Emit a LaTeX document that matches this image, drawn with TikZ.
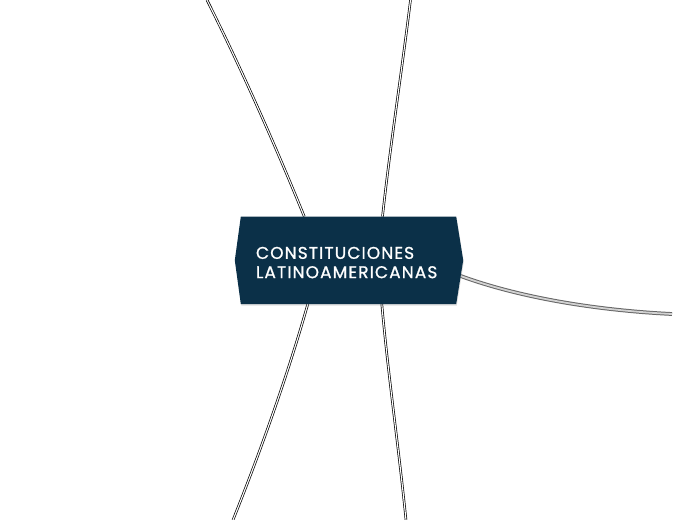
\documentclass[tikz,border=0pt]{standalone}
\usepackage{fontspec}
\setmainfont{Poppins}
\newfontfamily\rootfont[LetterSpace=6.5,FakeBold=1]{Poppins}
\usetikzlibrary{backgrounds,shadows,calc}
\definecolor{rootblue}{HTML}{0B3048}
\tikzset{
  rootbox/.style={minimum width=215pt, minimum height=87pt, inner xsep=15pt, inner ysep=0pt,
    text width=185pt, text height=16.5pt, align=left, text=white,
    font=\rootfont\fontsize{17}{19.3}\selectfont},
  branch/.style={draw=black, double=white, line width=0.7pt, double distance=1.1pt},
  greybranch/.style={draw=gray!80!black, double=gray!35, line width=1pt, double distance=1.8pt}
}
\begin{document}
\begin{tikzpicture}[x=1pt,y=-1pt]
\useasboundingbox (0,0) rectangle (697,520);

% Root
\node[rootbox] (root) at (348.5,260.3) {CONSTITUCIONES\\LATINOAMERICANAS};

% Branch ends
\coordinate (topleft)  at (207,0);
\coordinate (topright) at (410.5,0);
\coordinate (right)    at (672,314);
\coordinate (botleft)  at (233,520);
\coordinate (botright) at (406,520);

\begin{scope}[on background layer]
% Branches
\draw[branch] ($(root.north west)+(63.5,0)$) .. controls (276,147) and (242,70) .. (topleft);
\draw[branch] ($(root.north west)+(141.7,0)$) .. controls (390,147) and (402,70) .. (topright);
\draw[branch] ($(root.south west)+(67,0)$) .. controls (288,374) and (261,450) .. (botleft);
\draw[branch] ($(root.south west)+(141,0)$) .. controls (388,374) and (399,450) .. (botright);
\draw[greybranch] ($(root.east)+(4.5,15.7)$) .. controls (515,296) and (590,310) .. (right);

% Root shape
\fill[rootblue, drop shadow={shadow xshift=0.6pt, shadow yshift=-1.6pt, opacity=0.25}]
  (root.north west) -- ($(root.west)+(-6,0)$) -- (root.south west)
  -- (root.south east) -- ($(root.east)+(7,0)$) -- (root.north east) -- cycle;
\end{scope}
\end{tikzpicture}
\end{document}
